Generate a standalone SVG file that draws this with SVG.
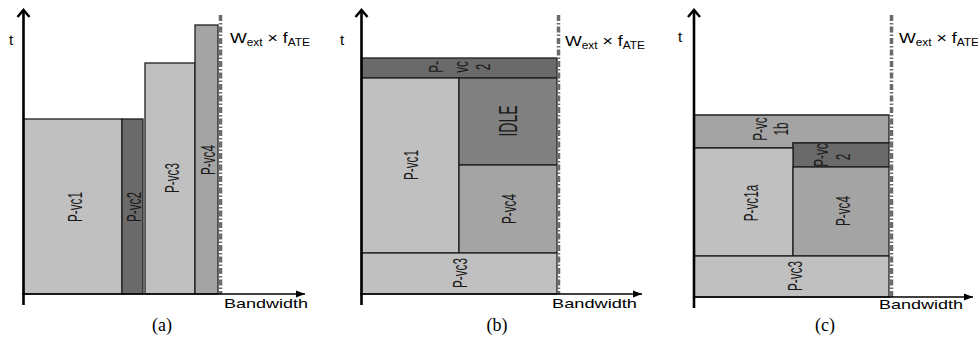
<svg xmlns="http://www.w3.org/2000/svg" width="978" height="338" viewBox="0 0 978 338">
<style>
.box{stroke:#1e1e1e;stroke-width:1.3}
.light{fill:#c0c0c0}
.mid{fill:#a4a4a4}
.idle{fill:#808080}
.dark{fill:#6a6a6a}
.lbl{font-family:"Liberation Sans",Arial,sans-serif;font-size:21px;fill:#1a1a1a;text-anchor:middle}
.yax{stroke:#000;stroke-width:2.6;fill:none}
.xax{stroke:#000;stroke-width:1.5;fill:none}
.lim{stroke:#6b6b6b;stroke-width:3.5;stroke-dasharray:6 2 1.5 2;fill:none}
.ax{font-family:"Liberation Sans",Arial,sans-serif;font-size:13px;fill:#000}
.t{font-family:"Liberation Sans",Arial,sans-serif;font-size:15px;fill:#000}
.w{font-family:"Liberation Sans",Arial,sans-serif;font-size:15px;fill:#000}
.cap{font-family:"Liberation Serif","Times New Roman",serif;font-size:18px;fill:#000;text-anchor:middle}
</style>
<defs>
<marker id="chev" markerUnits="userSpaceOnUse" markerWidth="20" markerHeight="20" refX="0" refY="0" orient="auto" viewBox="-10 -10 20 20" overflow="visible">
<path d="M-7,-6 L0,0 L-7,6" fill="none" stroke="#000" stroke-width="2.5"/>
</marker>
<marker id="tri" markerUnits="userSpaceOnUse" markerWidth="20" markerHeight="20" refX="0" refY="0" orient="auto" viewBox="-10 -10 20 20" overflow="visible">
<path d="M-9,-3.5 L0,0 L-9,3.5 Z" fill="#000"/>
</marker>
</defs>

<!-- Panel (a) -->
<g id="a-vc1"><rect class="box light" x="23.5" y="119" width="98.5" height="175"/><text class="lbl" dy="0.36em" transform="translate(74,207) rotate(-90) scale(0.56,1)">P-vc1</text></g>
<g id="a-vc2"><rect class="box dark" x="122" y="119" width="21" height="175"/><text class="lbl" dy="0.36em" transform="translate(133,207) rotate(-90) scale(0.56,1)">P-vc2</text></g>
<g id="a-vc3"><rect class="box light" x="145" y="63" width="50" height="231"/><text class="lbl" dy="0.36em" transform="translate(171,178) rotate(-90) scale(0.56,1)">P-vc3</text></g>
<g id="a-vc4"><rect class="box mid" x="195" y="25" width="23" height="269"/><text class="lbl" dy="0.36em" transform="translate(207,160) rotate(-90) scale(0.56,1)">P-vc4</text></g>

<!-- Panel (b) -->
<g id="b-vc2"><rect class="box dark" x="361.5" y="58" width="195.5" height="20"/>
<text class="lbl" dy="0.36em" transform="translate(435,67) rotate(-90) scale(0.56,1)">P-</text>
<text class="lbl" dy="0.36em" transform="translate(460,67) rotate(-90) scale(0.56,1)">vc</text>
<text class="lbl" dy="0.36em" transform="translate(482,67) rotate(-90) scale(0.56,1)">2</text></g>
<g id="b-vc1"><rect class="box light" x="361.5" y="78" width="97.5" height="175"/><text class="lbl" dy="0.36em" transform="translate(410,165) rotate(-90) scale(0.56,1)">P-vc1</text></g>
<g id="b-idle"><rect class="box idle" x="459" y="78" width="98" height="87"/><text class="lbl" style="font-size:25px" dy="0.36em" transform="translate(508,121) rotate(-90) scale(0.56,1)">IDLE</text></g>
<g id="b-vc4"><rect class="box mid" x="459" y="165" width="98" height="88"/><text class="lbl" dy="0.36em" transform="translate(508,209) rotate(-90) scale(0.56,1)">P-vc4</text></g>
<g id="b-vc3"><rect class="box light" x="361.5" y="253" width="195.5" height="41"/><text class="lbl" dy="0.36em" transform="translate(459,273) rotate(-90) scale(0.56,1)">P-vc3</text></g>

<!-- Panel (c) -->
<g id="c-vc1b"><path class="box mid" d="M694,115 H889 V143 H793 V148 H694 Z"/>
<text class="lbl" dy="0.36em" transform="translate(759,129) rotate(-90) scale(0.56,1)">P-vc</text>
<text class="lbl" dy="0.36em" transform="translate(780,129) rotate(-90) scale(0.56,1)">1b</text></g>
<g id="c-vc2"><rect class="box dark" x="793" y="143" width="96" height="24"/>
<text class="lbl" dy="0.36em" transform="translate(820,155) rotate(-90) scale(0.56,1)">P-vc</text>
<text class="lbl" dy="0.36em" transform="translate(842,157) rotate(-90) scale(0.56,1)">2</text></g>
<g id="c-vc1a"><rect class="box light" x="694" y="148" width="99" height="108"/><text class="lbl" dy="0.36em" transform="translate(750,203) rotate(-90) scale(0.56,1)">P-vc1a</text></g>
<g id="c-vc4"><rect class="box mid" x="793" y="167" width="96" height="89"/><text class="lbl" dy="0.36em" transform="translate(842,211) rotate(-90) scale(0.56,1)">P-vc4</text></g>
<g id="c-vc3"><rect class="box light" x="694" y="256" width="195" height="41"/><text class="lbl" dy="0.36em" transform="translate(794,276) rotate(-90) scale(0.56,1)">P-vc3</text></g>

<!-- Connectors: axes and bandwidth limits -->
<g id="connectors">
<line class="lim" x1="220.5" y1="15" x2="220.5" y2="294"/>
<line class="lim" x1="558.5" y1="15" x2="558.5" y2="294"/>
<line class="lim" x1="891.5" y1="15" x2="891.5" y2="297"/>
<line class="yax" x1="23.5" y1="305" x2="23.5" y2="10" marker-end="url(#chev)"/>
<line class="xax" x1="22" y1="294" x2="305" y2="294" marker-end="url(#tri)"/>
<line class="yax" x1="361.5" y1="305" x2="361.5" y2="10" marker-end="url(#chev)"/>
<line class="xax" x1="360" y1="294" x2="642" y2="294" marker-end="url(#tri)"/>
<line class="yax" x1="694" y1="308" x2="694" y2="10" marker-end="url(#chev)"/>
<line class="xax" x1="693" y1="297" x2="973" y2="297" marker-end="url(#tri)"/>
</g>

<!-- Axis labels -->
<g id="labels">
<text class="t" x="9" y="45">t</text>
<text class="t" x="340" y="45">t</text>
<text class="t" x="678" y="42">t</text>
<text class="ax" x="224" y="308" textLength="84" lengthAdjust="spacingAndGlyphs">Bandwidth</text>
<text class="ax" x="552" y="308" textLength="85" lengthAdjust="spacingAndGlyphs">Bandwidth</text>
<text class="ax" x="879" y="309" textLength="84" lengthAdjust="spacingAndGlyphs">Bandwidth</text>
<text class="w" x="230" y="43" textLength="80" lengthAdjust="spacingAndGlyphs">W<tspan font-size="10" dy="3">ext</tspan><tspan dy="-3"> × f</tspan><tspan font-size="10" dy="3">ATE</tspan></text>
<text class="w" x="565" y="46" textLength="80" lengthAdjust="spacingAndGlyphs">W<tspan font-size="10" dy="3">ext</tspan><tspan dy="-3"> × f</tspan><tspan font-size="10" dy="3">ATE</tspan></text>
<text class="w" x="899" y="43" textLength="80" lengthAdjust="spacingAndGlyphs">W<tspan font-size="10" dy="3">ext</tspan><tspan dy="-3"> × f</tspan><tspan font-size="10" dy="3">ATE</tspan></text>
<text class="cap" x="162" y="331">(a)</text>
<text class="cap" x="497" y="331">(b)</text>
<text class="cap" x="825" y="331">(c)</text>
</g>
</svg>
